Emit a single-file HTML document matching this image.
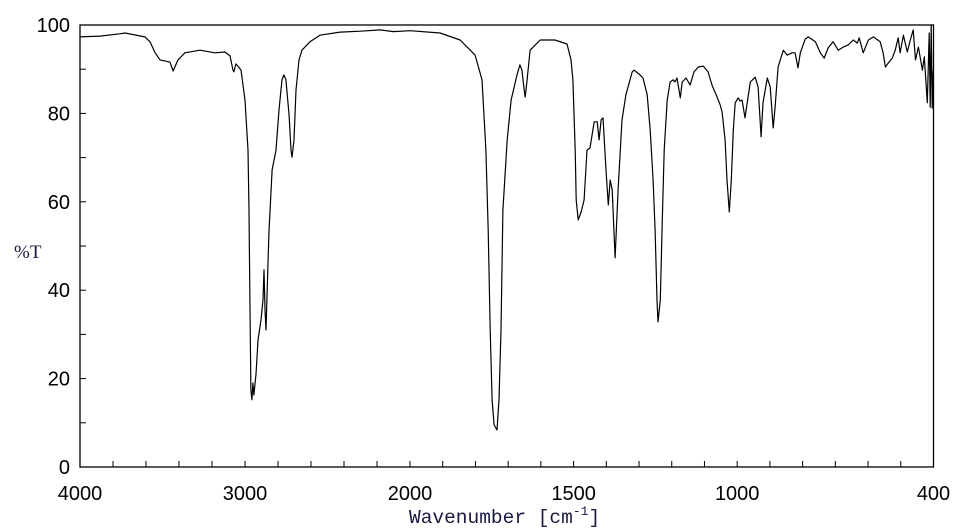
<!DOCTYPE html>
<html><head><meta charset="utf-8"><style>
html,body{margin:0;padding:0;background:#fff;width:959px;height:528px;overflow:hidden}
svg{display:block}
</style></head><body>
<svg id="chart" width="959" height="528" xmlns="http://www.w3.org/2000/svg"></svg>
<script>
const wavenumbers=[4000,3879,3758,3727,3606,3576,3545,3515,3455,3436,3406,3364,3273,3182,3121,3091,3073,3067,3055,3043,3024,3012,3000,2982,2976,2970,2964,2958,2952,2946,2933,2921,2903,2891,2885,2879,2873,2867,2855,2836,2812,2794,2776,2764,2752,2733,2721,2715,2703,2691,2673,2655,2606,2546,2424,2300,2182,2100,2000,1908,1847,1801,1780,1768,1761,1755,1749,1743,1734,1728,1722,1716,1703,1691,1673,1664,1658,1651,1648,1642,1633,1602,1557,1520,1508,1502,1495,1492,1486,1477,1468,1459,1450,1437,1428,1422,1416,1410,1401,1394,1388,1382,1373,1364,1352,1340,1321,1315,1297,1288,1275,1266,1257,1251,1245,1242,1235,1229,1223,1214,1205,1196,1190,1184,1174,1168,1156,1144,1132,1119,1104,1089,1076,1064,1052,1046,1037,1031,1024,1018,1012,1006,997,991,985,976,960,945,936,927,921,908,899,890,884,875,859,847,832,823,814,807,792,783,761,746,734,722,707,691,676,661,645,633,627,615,599,584,563,554,547,538,526,517,508,502,492,480,471,462,455,446,434,428,419,413,410,407,404,401];
const transmittance=[97.3,97.5,98.0,98.2,97.3,96.2,93.7,92.1,91.6,89.6,92.1,93.7,94.3,93.7,93.9,93.0,89.8,89.4,91.2,90.7,89.8,86.4,83.0,71.7,58.1,37.8,17.4,15.2,19.0,16.3,21.3,28.7,33.3,37.8,44.6,35.6,31.0,37.8,52.9,67.2,71.7,80.8,87.6,88.7,87.6,79.6,71.7,70.1,74.0,85.3,92.1,94.3,96.2,97.7,98.4,98.6,98.9,98.5,98.7,98.2,96.6,93.2,87.6,71.7,53.6,31.0,15.2,9.5,8.4,15.2,31.0,58.1,74.0,83.0,88.7,91.0,89.8,85.3,83.7,87.6,94.3,96.6,96.6,95.7,92.1,87.6,71.7,60.4,55.9,57.7,60.4,71.7,72.2,78.1,78.1,74.0,78.5,79.0,67.2,59.3,64.9,62.7,47.3,62.7,78.5,84.2,89.4,89.8,88.7,88.0,84.2,76.2,64.9,53.6,37.8,32.8,37.8,55.9,71.7,83.0,87.1,87.6,87.1,88.0,83.5,87.1,88.0,86.4,89.4,90.5,90.7,89.4,86.2,84.2,81.9,80.3,74.0,64.9,57.7,64.9,76.2,82.4,83.5,82.8,83.0,79.0,87.1,88.2,86.0,74.7,82.4,88.0,86.0,76.7,81.4,90.5,94.3,93.2,93.7,93.7,90.3,93.7,96.8,97.3,96.2,93.7,92.5,94.8,96.2,94.3,95.0,95.5,96.6,95.9,97.1,93.7,96.6,97.3,96.2,93.7,90.5,91.4,92.5,94.3,97.1,93.7,97.7,93.9,96.6,98.9,92.1,95.0,89.8,92.8,82.4,98.2,81.4,100,81.2,89.8];
const yTicks=[0,20,40,60,80,100];
const xTicks=[4000,3000,2000,1500,1000,400];
const xTickLabels=["4000","3000","2000","1500","1000","400"];

const L=80,T=25,B=467,R=933.5,XB=410;
function xs(w){return w>=2000? L+(4000-w)*(XB-L)/2000 : XB+(2000-w)*(R-XB)/1600;}
function ys(v){return B-v*(B-T)/100;}
const NS="http://www.w3.org/2000/svg";
const svg=document.getElementById('chart');
function mk(tag,attrs,parent){const e=document.createElementNS(NS,tag);for(const k in attrs)e.setAttribute(k,attrs[k]);(parent||svg).appendChild(e);return e;}

const frame=mk('rect',{x:L,y:T,width:R-L,height:B-T,fill:'none',stroke:'#000','stroke-width':1.3});



const yAxis=mk('g',{});


for(let v=10;v<100;v+=10){
  const t=mk('line',{x1:L,x2:L+6,y1:ys(v),y2:ys(v),stroke:'#000','stroke-width':1},yAxis);
  
  
}
yTicks.forEach(v=>{
  const t=mk('text',{x:L-10,y:ys(v)+7,'text-anchor':'end','font-family':'Liberation Sans, sans-serif','font-size':20,fill:'#000'},yAxis);
  t.textContent=v;
  
  
});
const xAxis=mk('g',{});


for(let w=3800;w>2000;w-=200){
  const t=mk('line',{x1:xs(w),x2:xs(w),y1:B,y2:B-6,stroke:'#000'},xAxis);
  
  
}
for(let w=2000;w>400;w-=100){
  const t=mk('line',{x1:xs(w),x2:xs(w),y1:B,y2:B-6,stroke:'#000'},xAxis);
  
  
}
xTicks.forEach((w,i)=>{
  const t=mk('text',{x:xs(w),y:500,'text-anchor':'middle','font-family':'Liberation Sans, sans-serif','font-size':20,fill:'#000'},xAxis);
  t.textContent=xTickLabels[i];
  
  
});
const yt=mk('text',{x:14,y:258,'font-family':'Liberation Serif, serif','font-size':19,fill:'#1a1a40'});
yt.textContent='%T';


const xt=mk('text',{x:409,y:523,'font-family':'Liberation Mono, monospace','font-size':19.5,fill:'#1a1a40'});
xt.innerHTML='Wavenumber [cm<tspan dy="-8" font-size="13">-1</tspan><tspan dy="8">]</tspan>';



let d='';
wavenumbers.forEach((w,i)=>{d+=(i?'L':'M')+xs(w).toFixed(1)+','+ys(transmittance[i]).toFixed(1);});
const line=mk('path',{d:d,fill:'none',stroke:'#000','stroke-width':1.2,'stroke-linejoin':'round'});


</script>
</body></html>
